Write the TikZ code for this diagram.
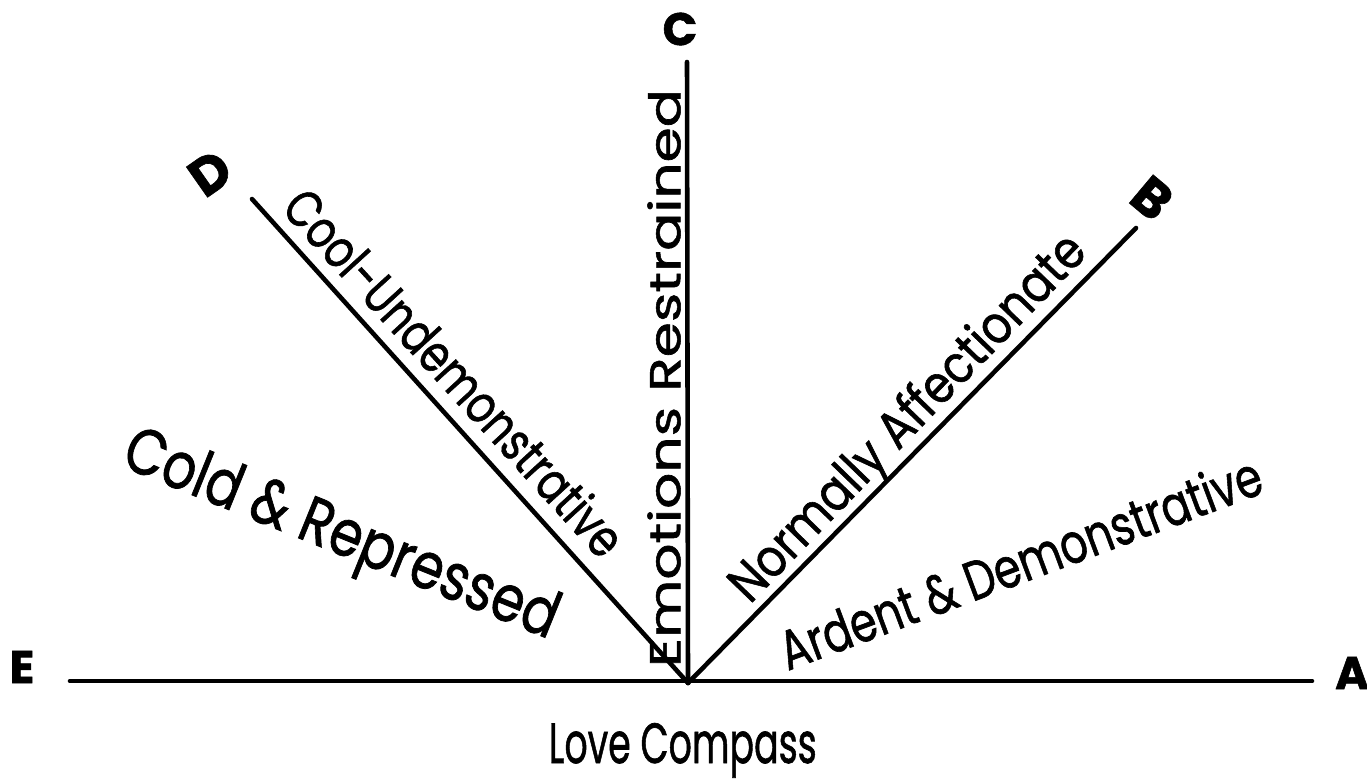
\documentclass[tikz,border=0pt]{standalone}
\usepackage{fontspec}
\usepackage{graphicx}
\setmainfont{Poppins}[FakeBold=1.2]
% one pixel of the reference
\newlength{\pxu}
\setlength{\pxu}{0.01cm}
% text stretched to a given length and height (in pixels)
\newcommand{\handtext}[3]{\resizebox{#1\pxu}{#2\pxu}{#3}}
\begin{document}
\begin{tikzpicture}[x=0.01cm, y=-0.01cm,
    ray/.style={line width=1.3pt, line cap=round},
    lbl/.style={inner sep=0pt},
    pt/.style={inner sep=0pt, font=\fontsize{13}{15}\selectfont\bfseries}]
    \useasboundingbox (0,0) rectangle (1367,778);

    % centre of the compass and the free ends of the rays
    \coordinate (O) at (688,683);
    \coordinate (endE) at (70,681);
    \coordinate (endA) at (1312,681);
    \coordinate (endC) at (687,62);
    \coordinate (endD) at (252,199);
    \coordinate (endB) at (1136,228);

    % the rays
    \draw[ray] (endE) -- (endA);
    \foreach \p in {endC, endD, endB} {
        \draw[ray] (O) -- (\p);
    }

    % the points of the compass
    \node[pt] (E) at (22,667) {E};
    \node[pt] (A) at (1352,673) {A};
    \node[pt] (C) at (680,29) {C};
    \node[pt, rotate=35, font=\fontsize{15}{17}\selectfont\bfseries] (D) at (210,173) {D};
    \node[pt, rotate=-40, font=\fontsize{15}{17}\selectfont\bfseries] (B) at (1152,198) {B};

    % the zones between the rays
    \node[lbl, rotate=-22] (cold) at (340,538) {\handtext{463}{48}{Cold \& Repressed}};
    \node[lbl, rotate=-47.6] (cool) at (455,372) {\handtext{476}{40}{Cool-Undemonstrative}};
    \node[lbl, rotate=90] (restrained) at (664,378) {\handtext{578}{33}{Emotions Restrained}};
    \node[lbl, rotate=46] (normal) at (910,420) {\handtext{488}{40}{Normally Affectionate}};
    \node[lbl, rotate=20.5] (ardent) at (1020,562) {\handtext{511}{42}{Ardent \& Demonstrative}};

    % title
    \node[lbl, anchor=base west] (title) at (548,763) {\handtext{268}{40}{Love Compass}};
\end{tikzpicture}
\end{document}
